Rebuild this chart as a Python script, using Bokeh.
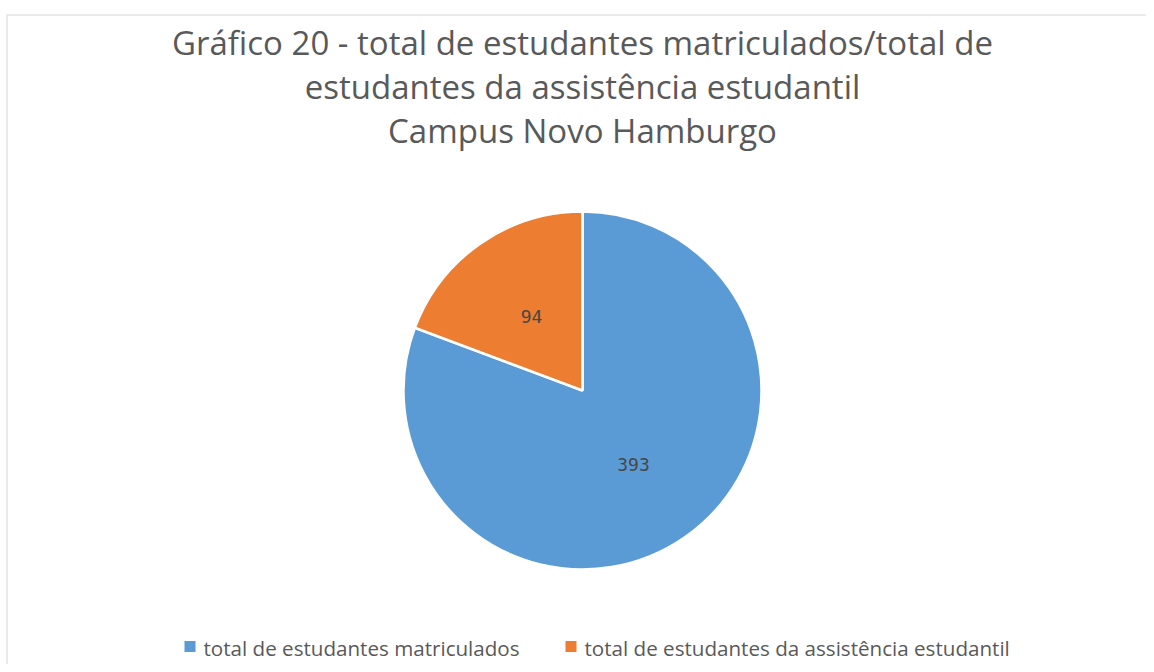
import numpy as np
from bokeh.plotting import figure
from bokeh.models import Range1d, ColumnDataSource
from bokeh.core.properties import value
from bokeh.embed import file_html
from bokeh.resources import INLINE

# ---- data ----
categories = ["total de estudantes matriculados", "total de estudantes da assistência estudantil"]
values = [393, 94]
colors = ["#5B9BD5", "#ED7D31"]
title_lines = ["Gráfico 20 - total de estudantes matriculados/total de",
               "estudantes da assistência estudantil",
               "Campus Novo Hamburgo"]

W, H = 1146, 664
p = figure(width=W, height=H, output_backend="svg", toolbar_location=None,
           x_range=Range1d(0, W), y_range=Range1d(0, H), min_border=0)
p.axis.visible = False
p.grid.visible = False
p.outline_line_color = None
p.background_fill_color = "white"
p.border_fill_color = "white"

def X(px):
    return px

def Y(py):
    return H - py

# chart frame
p.quad(left=[X(6.5)], right=[X(1200)], top=[Y(14.5)], bottom=[Y(720)],
       fill_color=None, line_color="#e3e3e3", line_width=1.5)

# title
FONT = "Open Sans"
for i, t in enumerate(title_lines):
    p.text(x=[X(582)], y=[Y(42 + 44 * i)], text=[t], text_font=value(FONT),
           text_font_size="33px", text_color="#595959",
           text_align="center", text_baseline="middle")

# pie: Excel style, starting at 12 o'clock, going clockwise
vals = np.array(values, dtype=float)
frac = vals / vals.sum()
cx, cy, r = X(582), Y(390), 179
start = np.pi / 2 - 2 * np.pi * np.concatenate([[0], np.cumsum(frac)[:-1]])
end = start - 2 * np.pi * frac
src = ColumnDataSource(dict(start=start, end=end, color=colors,
                            mid=(start + end) / 2, val=[str(v) for v in values]))
p.wedge(x=cx, y=cy, radius=r, start_angle="start", end_angle="end",
        direction="clock", fill_color="color", line_color="white",
        line_width=2.5, source=src)

lx = cx + 0.5 * r * np.cos(src.data["mid"])
ly = cy + 0.5 * r * np.sin(src.data["mid"])
p.text(x=lx, y=ly, text=src.data["val"], text_font=value("DejaVu Sans Mono"),
       text_font_size="18px", text_color="#474747", text_align="center",
       text_baseline="middle")

# legend
leg_x = [X(184), X(565)]
for i, cat in enumerate(categories):
    p.rect(x=[leg_x[i] + 5.5], y=[Y(646)], width=11, height=11,
           fill_color=colors[i], line_color=None)
    p.text(x=[leg_x[i] + 19], y=[Y(647)], text=[cat], text_font=value(FONT),
           text_font_size="20.6px", text_color="#595959",
           text_align="left", text_baseline="middle")

open("out.html", "w").write(file_html(p, INLINE))
